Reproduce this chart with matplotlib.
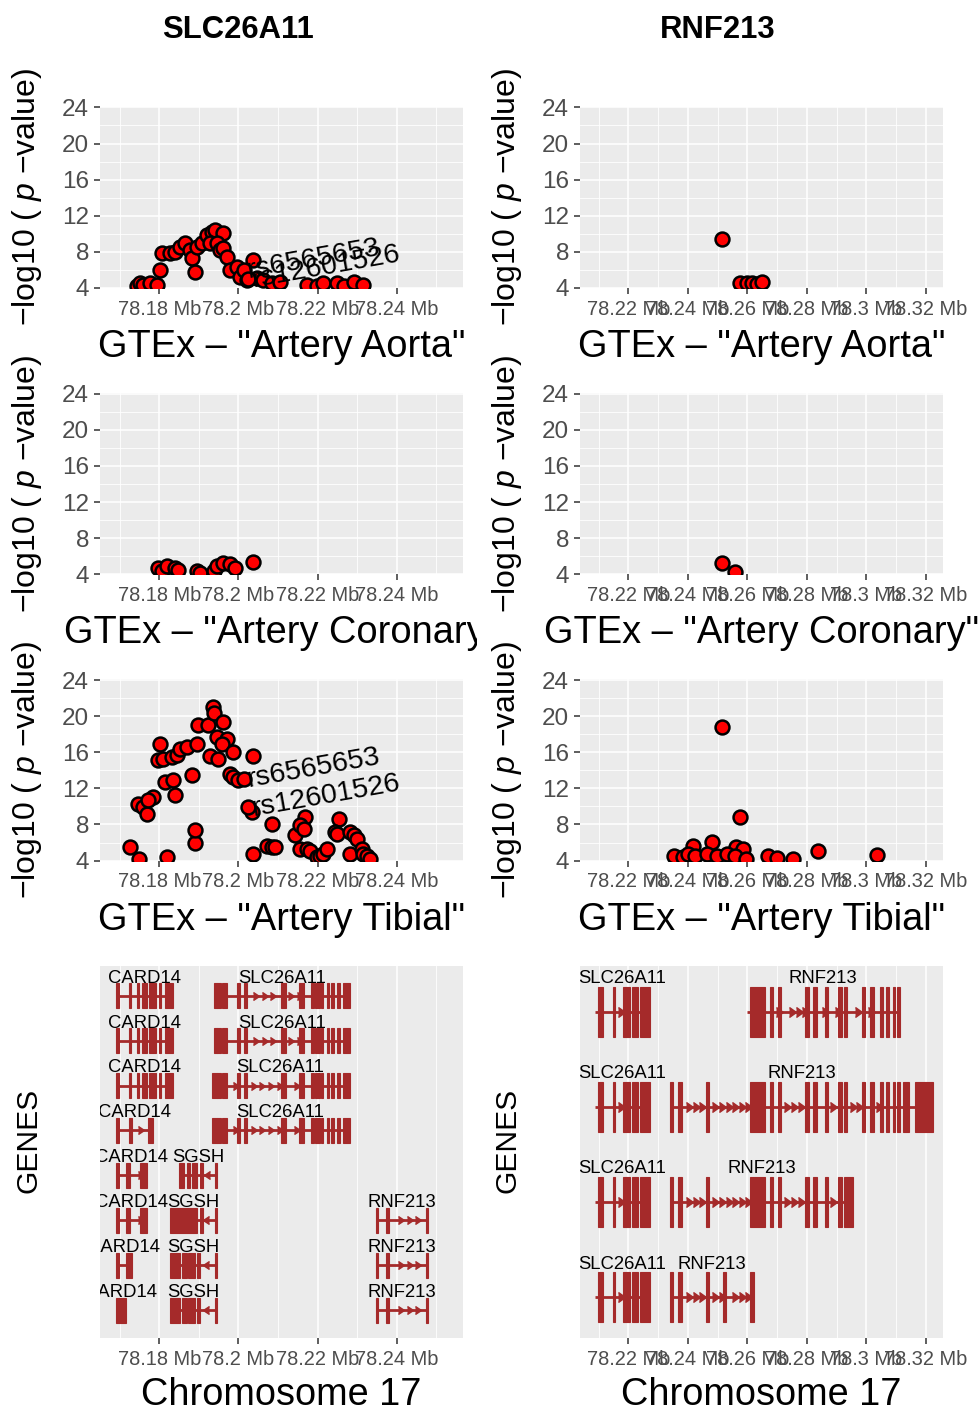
import matplotlib
matplotlib.use("Agg")
import matplotlib.pyplot as plt
from matplotlib.patches import Rectangle
from matplotlib.transforms import Bbox, TransformedBbox
import numpy as np

plt.rcParams['font.family'] = ['Liberation Sans', 'DejaVu Sans']
plt.rcParams['mathtext.fontset'] = 'custom'
plt.rcParams['mathtext.rm'] = 'Liberation Sans'
plt.rcParams['mathtext.it'] = 'Liberation Sans:italic'

# ---------------------------------------------------------------- data
genes = ['SLC26A11', 'RNF213']
tissues = ['Artery Aorta', 'Artery Coronary', 'Artery Tibial']

# eQTL associations around SLC26A11 (position in Mb, -log10 p)
slc_aorta_pos = [78.1743, 78.1751, 78.1759, 78.1776, 78.1793, 78.1802, 78.1806, 78.1827, 78.1840, 78.1852,
                 78.1865, 78.1878, 78.1882, 78.1890, 78.1895, 78.1907, 78.1920, 78.1932, 78.1941, 78.1962,
                 78.1928, 78.1945, 78.1954, 78.1962, 78.1970, 78.1979, 78.1996, 78.2004, 78.2021, 78.2038,
                 78.2046, 78.2063, 78.2084, 78.2105, 78.2173, 78.2198, 78.2215, 78.2249, 78.2266, 78.2291,
                 78.2316]
slc_aorta_logp = [4.22, 4.52, 4.33, 4.52, 4.33, 5.99, 7.83, 7.83, 8.01, 8.57,
                  8.94, 8.20, 7.28, 5.80, 8.57, 8.94, 9.86, 10.22, 10.41, 10.04,
                  8.94, 8.94, 8.20, 8.38, 7.46, 5.99, 6.36, 5.25, 4.88, 7.09,
                  5.07, 4.88, 4.52, 4.70, 4.33, 4.20, 4.52, 4.52, 4.20, 4.70,
                  4.33]
slc_coronary_pos = [78.1797, 78.1806, 78.1819, 78.1840, 78.1848, 78.1895, 78.1903, 78.1937, 78.1945,
                    78.1962, 78.1979, 78.1992, 78.2038]
slc_coronary_logp = [4.74, 4.37, 4.92, 4.74, 4.44, 4.37, 4.18, 4.37, 4.92, 5.29, 5.10, 4.74, 5.40]
slc_tibial_pos = [78.1727, 78.1749, 78.1820, 78.1890, 78.1890, 78.1882, 78.1802, 78.1797, 78.1810, 78.1831,
                  78.1844, 78.1852, 78.1869, 78.1895, 78.1814, 78.1835, 78.1840, 78.1747, 78.1759, 78.1768,
                  78.1785, 78.1772, 78.1899, 78.1924, 78.1935, 78.1938, 78.1962, 78.1945, 78.1970, 78.1958,
                  78.1928, 78.1949, 78.1987, 78.1979, 78.1987, 78.2000, 78.2038, 78.2034, 78.2038, 78.2084,
                  78.2072, 78.2084, 78.2093, 78.2143, 78.2169, 78.2156, 78.2165, 78.2156, 78.2173, 78.2181,
                  78.2198, 78.2207, 78.2215, 78.2224, 78.2253, 78.2245, 78.2249, 78.2283, 78.2291, 78.2300,
                  78.2283, 78.2312, 78.2316, 78.2325, 78.2333]
slc_tibial_logp = [5.48, 4.19, 4.44, 5.93, 7.41, 13.44, 16.96, 15.11, 15.30, 15.48,
                   15.67, 16.41, 16.59, 16.96, 12.70, 12.89, 11.22, 10.30, 9.93, 9.19,
                   11.04, 10.67, 19.00, 19.00, 21.04, 20.37, 19.37, 17.70, 17.52, 16.96,
                   15.56, 15.30, 16.04, 13.63, 13.26, 12.89, 15.56, 9.37, 4.74, 8.00,
                   5.67, 5.48, 5.48, 6.78, 8.81, 7.89, 7.52, 5.30, 5.30, 5.11,
                   4.37, 4.56, 4.74, 5.30, 8.63, 7.15, 6.96, 7.15, 6.78, 6.41,
                   4.74, 5.30, 4.74, 4.56, 4.19]

# labelled lead variants for SLC26A11
lead_snp_ids = ['rs6565653', 'rs12601526']
lead_snp_pos = [78.2013, 78.2025]
lead_aorta_logp = [6.00, 5.00]
lead_tibial_logp = [13.07, 9.93]

# eQTL associations around RNF213
rnf_aorta_pos = [78.2514, 78.2575, 78.2598, 78.2615, 78.2631, 78.2648]
rnf_aorta_logp = [9.38, 4.59, 4.52, 4.59, 4.44, 4.66]
rnf_coronary_pos = [78.2515, 78.2558]
rnf_coronary_logp = [5.27, 4.30]
rnf_tibial_pos = [78.2514, 78.2575, 78.2483, 78.2418, 78.2562, 78.2587, 78.2355, 78.2385, 78.2402, 78.2424,
                  78.2463, 78.2497, 78.2531, 78.2559, 78.2596, 78.2671, 78.2699, 78.2755, 78.2839, 78.3037]
rnf_tibial_logp = [18.81, 8.81, 6.11, 5.67, 5.56, 5.30, 4.56, 4.37, 4.74, 4.56,
                   4.74, 4.56, 4.74, 4.56, 4.19, 4.48, 4.30, 4.19, 5.04, 4.67]

# axis ticks (Mb)
slc_ticks = [78.18, 78.20, 78.22, 78.24]
slc_minor = [78.17, 78.19, 78.21, 78.23, 78.25]
rnf_ticks = [78.22, 78.24, 78.26, 78.28, 78.30, 78.32]
rnf_minor = [78.21, 78.23, 78.25, 78.27, 78.29, 78.31]
logp_ticks = [4, 8, 12, 16, 20, 24]
logp_minor = [6, 10, 14, 18, 22]

# transcript models (exon start, exon end in Mb)
card14_a = [(78.1690, 78.1699), (78.1724, 78.1729), (78.1743, 78.1749), (78.1755, 78.1768),
            (78.1775, 78.1792), (78.1798, 78.1805), (78.1815, 78.1835)]
card14_b = [(78.1690, 78.1699), (78.1724, 78.1730), (78.1772, 78.1785)]
card14_c = [(78.1690, 78.1699), (78.1717, 78.1726), (78.1751, 78.1768)]
card14_d = [(78.1690, 78.1699), (78.1717, 78.1730)]
card14_e = [(78.1690, 78.1716)]
sgsh_a = [(78.1851, 78.1862), (78.1869, 78.1878), (78.1882, 78.1896), (78.1903, 78.1910), (78.1940, 78.1947)]
sgsh_b = [(78.1827, 78.1895), (78.1903, 78.1910), (78.1940, 78.1947)]
sgsh_c = [(78.1827, 78.1852), (78.1857, 78.1869), (78.1873, 78.1890), (78.1896, 78.1903), (78.1940, 78.1947)]
slc26a11_a = [(78.1938, 78.1945), (78.1947, 78.1955), (78.1958, 78.1970), (78.1996, 78.2003),
              (78.2014, 78.2021), (78.2107, 78.2119), (78.2153, 78.2165), (78.2183, 78.2192),
              (78.2194, 78.2207), (78.2209, 78.2215), (78.2224, 78.2230), (78.2234, 78.2242),
              (78.2249, 78.2257), (78.2264, 78.2281)]
slc26a11_b = [(78.1932, 78.1945)] + slc26a11_a[1:]
rnf213_short = [(78.2348, 78.2354), (78.2374, 78.2380), (78.2473, 78.2479)]

slc26a11_r = [(78.2099, 78.2116), (78.2147, 78.2155), (78.2183, 78.2206), (78.2211, 78.2234), (78.2239, 78.2273)]
rnf213_core = [(78.2609, 78.2659), (78.2676, 78.2687), (78.2704, 78.2715), (78.2794, 78.2808),
               (78.2822, 78.2833), (78.2861, 78.2872), (78.2906, 78.2917), (78.2925, 78.2936)]
rnf213_tail = [(78.2984, 78.2996), (78.3012, 78.3026), (78.3046, 78.3057), (78.3068, 78.3077),
               (78.3089, 78.3096), (78.3102, 78.3113)]
rnf213_head = [(78.2340, 78.2351), (78.2368, 78.2379), (78.2461, 78.2472)]
rnf213_1 = rnf213_core + rnf213_tail
rnf213_2 = rnf213_head + rnf213_core + rnf213_tail + [(78.3124, 78.3145), (78.3164, 78.3225)]
rnf213_3 = rnf213_head + rnf213_core[:6] + [(78.2906, 78.2917), (78.2925, 78.2956)]
rnf213_4 = rnf213_head + [(78.2519, 78.2528), (78.2609, 78.2624)]

# (row, gene, transcript span, exons, strand)
slc_tracks = [
    (1, 'CARD14', None, card14_a, '+'), (1, 'SLC26A11', None, slc26a11_a, '+'),
    (2, 'CARD14', None, card14_a, '+'), (2, 'SLC26A11', None, slc26a11_a, '+'),
    (3, 'CARD14', None, card14_a, '+'), (3, 'SLC26A11', None, slc26a11_b, '+'),
    (4, 'CARD14', None, card14_b, '+'), (4, 'SLC26A11', None, slc26a11_b, '+'),
    (5, 'CARD14', None, card14_c, '+'), (5, 'SGSH', None, sgsh_a, '-'),
    (6, 'CARD14', None, card14_c, '+'), (6, 'SGSH', None, sgsh_b, '-'), (6, 'RNF213', None, rnf213_short, '+'),
    (7, 'CARD14', None, card14_d, '+'), (7, 'SGSH', None, sgsh_c, '-'), (7, 'RNF213', None, rnf213_short, '+'),
    (8, 'CARD14', None, card14_e, '+'), (8, 'SGSH', None, sgsh_c, '-'), (8, 'RNF213', None, rnf213_short, '+'),
]
rnf_tracks = [
    (1, 'SLC26A11', (78.2088, 78.2273), slc26a11_r, '+'), (1, 'RNF213', (78.2598, 78.3113), rnf213_1, '+'),
    (2, 'SLC26A11', (78.2088, 78.2273), slc26a11_r, '+'), (2, 'RNF213', None, rnf213_2, '+'),
    (3, 'SLC26A11', (78.2088, 78.2273), slc26a11_r, '+'), (3, 'RNF213', None, rnf213_3, '+'),
    (4, 'SLC26A11', (78.2088, 78.2273), slc26a11_r, '+'), (4, 'RNF213', None, rnf213_4, '+'),
]

# ---------------------------------------------------------------- layout
W, H, DPI = 979, 1408, 100
fig = plt.figure(figsize=(W / DPI, H / DPI), dpi=DPI)

BG = '#EBEBEB'
GENE_COLOR = '#A52A2A'
TICK_GREY = '#4D4D4D'


def add_axes_px(x0, y0, x1, y1):
    return fig.add_axes([x0 / W, 1 - y1 / H, (x1 - x0) / W, (y1 - y0) / H])


def style(ax, xlim, ticks, minor, y_grid=True):
    ax.set_facecolor(BG)
    for s in ax.spines.values():
        s.set_visible(False)
    ax.set_xlim(*xlim)
    ax.set_xticks(ticks)
    ax.set_xticks(minor, minor=True)
    ax.set_xticklabels([f"{t:g} Mb" for t in ticks])
    ax.grid(which='major', axis='x', color='white', lw=1.15)
    ax.grid(which='minor', axis='x', color='white', lw=0.6)
    if y_grid:
        ax.grid(which='major', axis='y', color='white', lw=1.15)
        ax.grid(which='minor', axis='y', color='white', lw=0.6)
    ax.set_axisbelow(True)
    ax.tick_params(which='major', length=4.5, width=1.1, color='#333333',
                   labelsize=14.4, labelcolor=TICK_GREY, pad=4)
    ax.tick_params(which='minor', length=0)


col_x = [(100, 463.3), (580, 943.3)]
col_xlim = [(78.16501, 78.25684), (78.20376, 78.32590)]
col_ticks = [(slc_ticks, slc_minor), (rnf_ticks, rnf_minor)]
col_title_x = [238, 718]
row_top = [106.5, 392.8, 679.1]
panel_h = 181.5
ylabel = "\u2212log10 ( $p$ \u2212value)"

assoc = {
    (0, 0): (slc_aorta_pos, slc_aorta_logp),
    (0, 1): (slc_coronary_pos, slc_coronary_logp),
    (0, 2): (slc_tibial_pos, slc_tibial_logp),
    (1, 0): (rnf_aorta_pos, rnf_aorta_logp),
    (1, 1): (rnf_coronary_pos, rnf_coronary_logp),
    (1, 2): (rnf_tibial_pos, rnf_tibial_logp),
}
lead_logp = {0: lead_aorta_logp, 2: lead_tibial_logp}

for c in range(2):
    x0, x1 = col_x[c]
    xc = (x0 + x1) / 2
    fig.text(col_title_x[c] / W, 1 - 38 / H, genes[c], ha='center', va='baseline',
             fontsize=22.3, fontweight='bold')
    for r in range(3):
        y0 = row_top[r]
        ax = add_axes_px(x0, y0, x1, y0 + panel_h)
        style(ax, col_xlim[c], *col_ticks[c])
        ax.set_ylim(4, 24.1)
        ax.set_yticks(logp_ticks)
        ax.set_yticks(logp_minor, minor=True)
        ax.tick_params(axis='y', which='major', labelsize=17.5, pad=3.5)
        pos, lp = assoc[(c, r)]
        assert len(pos) == len(lp)
        xs, ys = list(pos), list(lp)
        if c == 0 and r in lead_logp:
            xs += lead_snp_pos
            ys += lead_logp[r]
        ax.scatter(xs, ys, s=100, facecolor='#FF0000', edgecolor='black', linewidths=1.8, zorder=3)
        if c == 0 and r in lead_logp:
            for name, x, y in zip(lead_snp_ids, lead_snp_pos, lead_logp[r]):
                ax.annotate(name, xy=(x, y), xytext=(5, -8.5), textcoords='offset pixels',
                            rotation=10, rotation_mode='anchor', ha='left', va='baseline',
                            fontsize=20.5, color='black', zorder=5)
        # y title
        fig.text((27.5 + 480 * c) / W, 1 - (y0 + panel_h / 2) / H, ylabel, rotation=90,
                 ha='center', va='center', fontsize=23)
        # panel title below the axis
        t = fig.text(xc / W, 1 - (357 + 286.3 * r) / H, f'GTEx \u2013 "{tissues[r]}"',
                     ha='center', va='baseline', fontsize=27.4)
        if c == 0:
            t.set_clip_on(True)
            t.set_clip_box(TransformedBbox(Bbox([[0, 0], [477 / W, 1]]), fig.transFigure))


def draw_tracks(ax, tracks, exon_h, label_off, step, chev_ms):
    for row, name, span, exons, strand in tracks:
        t0, t1 = span if span else (min(e[0] for e in exons), max(e[1] for e in exons))
        ax.plot([t0, t1], [row, row], color=GENE_COLOR, lw=2.0, solid_capstyle='butt', zorder=3)
        for s, e in exons:
            ax.add_patch(Rectangle((s, row - exon_h / 2), e - s, exon_h, facecolor=GENE_COLOR,
                                   edgecolor=GENE_COLOR, lw=0.8, zorder=4))
        marks = []
        for xm in np.arange(t0 + step / 2, t1, step):
            if all(not (s - step * 0.25 <= xm <= e + step * 0.25) for s, e in exons):
                marks.append(xm)
        ax.plot(marks, [row] * len(marks), linestyle='none',
                marker=9 if strand == '+' else 8, ms=chev_ms, color=GENE_COLOR, zorder=3)
        ax.text((t0 + t1) / 2, row - label_off, name, ha='center', va='baseline',
                fontsize=13.3, color='black', clip_on=True, zorder=6)


gene_specs = [
    (slc_tracks, (8.62, 0.34), 0.556, 0.29, 0.0022, 6),
    (rnf_tracks, (4.43, 0.52), 0.526, 0.30, 0.0022, 7),
]
for c in range(2):
    x0, x1 = col_x[c]
    ax = add_axes_px(x0, 966, x1, 1338)
    style(ax, col_xlim[c], *col_ticks[c], y_grid=False)
    tracks, ylim, eh, loff, step, ms = gene_specs[c]
    ax.set_ylim(*ylim)
    ax.set_yticks([])
    draw_tracks(ax, tracks, eh, loff, step, ms)
    fig.text((28 + 480 * c) / W, 1 - 1140 / H, 'GENES', rotation=90, ha='center', va='center',
             fontsize=21.6)
    fig.text((x0 + x1) / 2 / W, 1 - 1405 / H, 'Chromosome 17', ha='center', va='baseline',
             fontsize=27.3)

fig.savefig('out.png', dpi=DPI)
